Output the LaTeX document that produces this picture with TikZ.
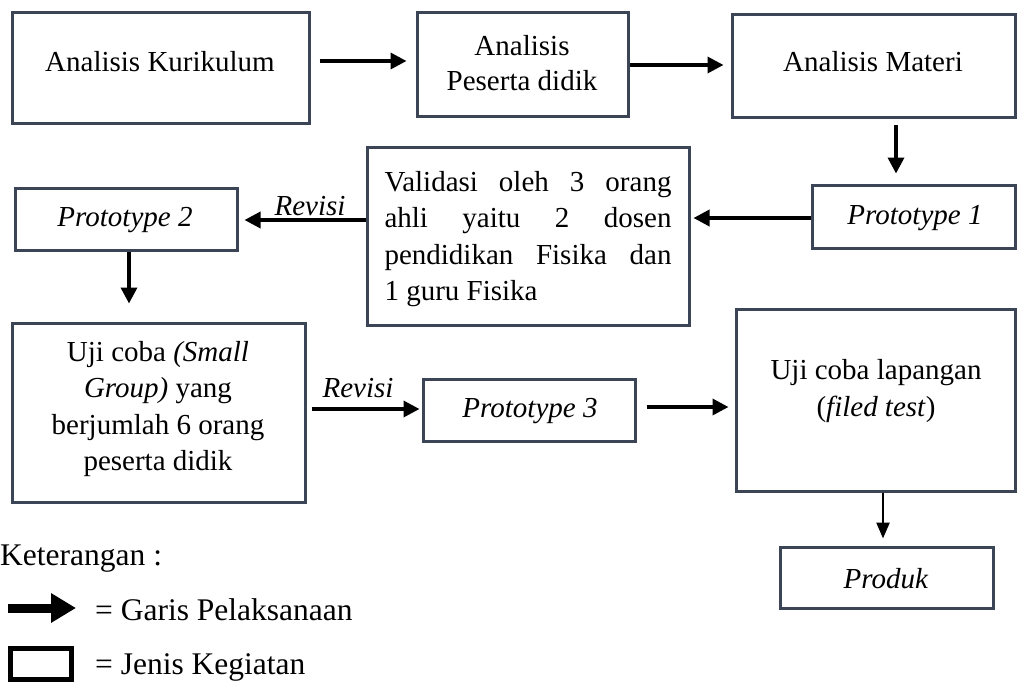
\documentclass[tikz,border=0pt]{standalone}
\usepackage{fontspec}
\setmainfont{Liberation Serif}
\usetikzlibrary{arrows.meta}
\definecolor{boxcol}{RGB}{59,69,86}
\begin{document}
\begin{tikzpicture}[x=1pt,y=-1pt,
  box/.style={draw=boxcol, line width=3pt, rectangle, inner sep=0pt},
  txt/.style={font=\fontsize{29}{36.5}\selectfont, inner sep=0pt, align=center},
  legtxt/.style={font=\fontsize{31.5}{38}\selectfont, inner sep=0pt, anchor=west},
  arr/.style={line width=3.5pt, -{Triangle[length=16pt,width=16pt]}},
  thinarr/.style={line width=2.5pt, -{Triangle[length=16pt,width=13pt]}}]
\useasboundingbox (0,0) rectangle (1017,682);
\hyphenpenalty=10000
% boxes
\node[box, minimum width=297pt, minimum height=111pt] (b1) at (160.5,68.5) {};
\node[box, minimum width=211pt, minimum height=104pt] (b2) at (522.5,65) {};
\node[box, minimum width=283pt, minimum height=103pt] (b3) at (873.5,66.5) {};
\node[box, minimum width=203pt, minimum height=63pt] (p1) at (913.5,216.5) {};
\node[box, minimum width=322pt, minimum height=177pt] (val) at (528,236.5) {};
\node[box, minimum width=222pt, minimum height=62pt] (p2) at (126,219) {};
\node[box, minimum width=293pt, minimum height=179pt] (uji) at (158.5,412.5) {};
\node[box, minimum width=212pt, minimum height=62pt] (p3) at (529,410) {};
\node[box, minimum width=279pt, minimum height=182pt] (lap) at (875.5,400) {};
\node[box, minimum width=213pt, minimum height=61pt] (prod) at (886.5,577.5) {};
% texts
\node[txt] (t1) at (160,62) {Analisis Kurikulum};
\node[txt, font=\fontsize{29}{35}\selectfont] (t2) at (522,63) {Analisis\\Peserta didik};
\node[txt] (t3) at (873,62) {Analisis Materi};
\node[txt] (tp1) at (915,218) {\textit{Prototype 1}};
\node[txt, text width=287pt, align=justify] (tval) at (528,239)
  {Validasi oleh 3 orang\linebreak ahli yaitu 2 dosen\linebreak pendidikan Fisika dan\linebreak 1 guru Fisika};
\node[txt] (tp2) at (125,220) {\textit{Prototype 2}};
\node[txt] (tuji) at (158,409) {Uji coba \textit{(Small}\\\textit{Group)} yang\\berjumlah 6 orang\\peserta didik};
\node[txt] (tp3) at (530,411) {\textit{Prototype 3}};
\node[txt] (tlap) at (876,391) {Uji coba lapangan\\(\textit{filed test})};
\node[txt] (tprod) at (886,579) {\textit{Produk}};
\node[txt] (rev1) at (310,206) {\textit{Revisi}};
\node[txt] (rev2) at (358,388) {\textit{Revisi}};
% connectors
\draw[arr, shorten <=9pt, shorten >=9pt] (b1.east |- 0,61) -- (b2.west |- 0,61);
\draw[arr, shorten >=7pt] (b2.east |- 0,65) -- (b3.west |- 0,65);
\draw[arr, shorten <=6pt, shorten >=10pt] (b3.south -| 896,0) -- (p1.north -| 896,0);
\draw[arr, shorten >=3pt] (p1.west |- 0,218) -- (val.east |- 0,218);
\draw[arr, shorten >=6pt] (val.west |- 0,220) -- (p2.east |- 0,220);
\draw[arr, shorten >=18pt] (p2.south -| 129,0) -- (uji.north -| 129,0);
\draw[arr, shorten <=5pt, shorten >=2pt] (uji.east |- 0,409) -- (p3.west |- 0,409);
\draw[arr, shorten <=10pt, shorten >=6pt] (p3.east |- 0,407) -- (lap.west |- 0,407);
\draw[thinarr, shorten >=7pt] (lap.south -| 883,0) -- (prod.north -| 883,0);
% legend
\node[legtxt] (ket) at (0,559) {Keterangan :};
\draw[line width=9pt, -{Triangle[length=25pt,width=28pt]}] (8,608) -- (76,608);
\node[legtxt] (lg1) at (95,610) {= Garis Pelaksanaan};
\draw[line width=5pt] (10,648) rectangle (71,679.5);
\node[legtxt] (lg2) at (95,667) {= Jenis Kegiatan};
\end{tikzpicture}
\end{document}
